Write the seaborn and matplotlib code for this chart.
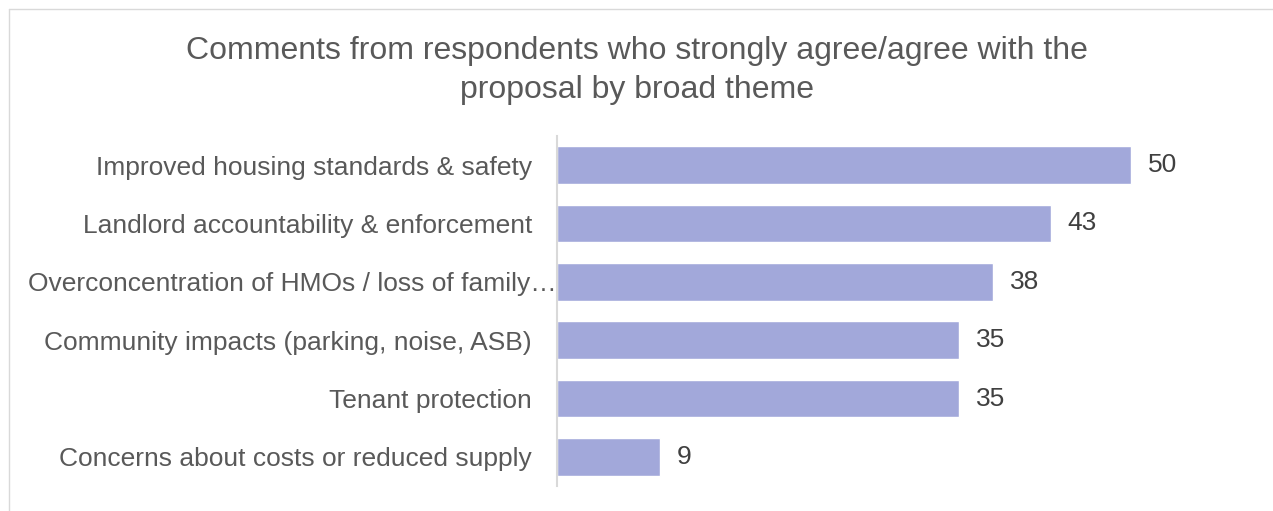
import matplotlib
matplotlib.use("Agg")
import matplotlib.pyplot as plt
import seaborn as sns
import pandas as pd

categories = [
    "Improved housing standards & safety",
    "Landlord accountability & enforcement",
    "Overconcentration of HMOs / loss of family…",
    "Community impacts (parking, noise, ASB)",
    "Tenant protection",
    "Concerns about costs or reduced supply",
]
values = [50, 43, 38, 35, 35, 9]
title = "Comments from respondents who strongly agree/agree with the\nproposal by broad theme"

sns.set_theme(style="white")
plt.rcParams["font.family"] = ["Liberation Sans", "DejaVu Sans"]

df = pd.DataFrame({"theme": categories, "count": values})

fig = plt.figure(figsize=(12.73, 5.11), dpi=100)
ax = fig.add_axes([0.4376, 0.0489, 0.5412, 0.6850])
sns.barplot(data=df, x="count", y="theme", color="#A2A8DA", saturation=1,
            width=0.65, ax=ax, orient="h")

ax.set_xlim(0, 60)
ax.set_xlabel("")
ax.set_ylabel("")
ax.set_xticks([])
for s in ["top", "right", "bottom"]:
    ax.spines[s].set_visible(False)
ax.spines["left"].set_color("#D9D9D9")
ax.spines["left"].set_linewidth(1.5)
ax.tick_params(axis="y", length=0, pad=18, labelsize=19, labelcolor="#595959")
# the truncated label runs right up to the axis in the original
ax.yaxis.get_major_ticks()[2].set_pad(0)

for c in ax.containers:
    ax.bar_label(c, labels=[str(v) for v in values], padding=12, fontsize=19, color="#404040")

fig.text(0.5, 0.862, title, ha="center", va="center", fontsize=23,
         color="#595959", linespacing=1.38)

# chart border (left/top visible)
fig.add_artist(plt.Line2D([9/1273, 9/1273], [0, 1 - 9/511], transform=fig.transFigure,
                          color="#D9D9D9", lw=1))
fig.add_artist(plt.Line2D([9/1273, 1], [1 - 9/511, 1 - 9/511], transform=fig.transFigure,
                          color="#D9D9D9", lw=1))

fig.savefig("out.png", dpi=100)
